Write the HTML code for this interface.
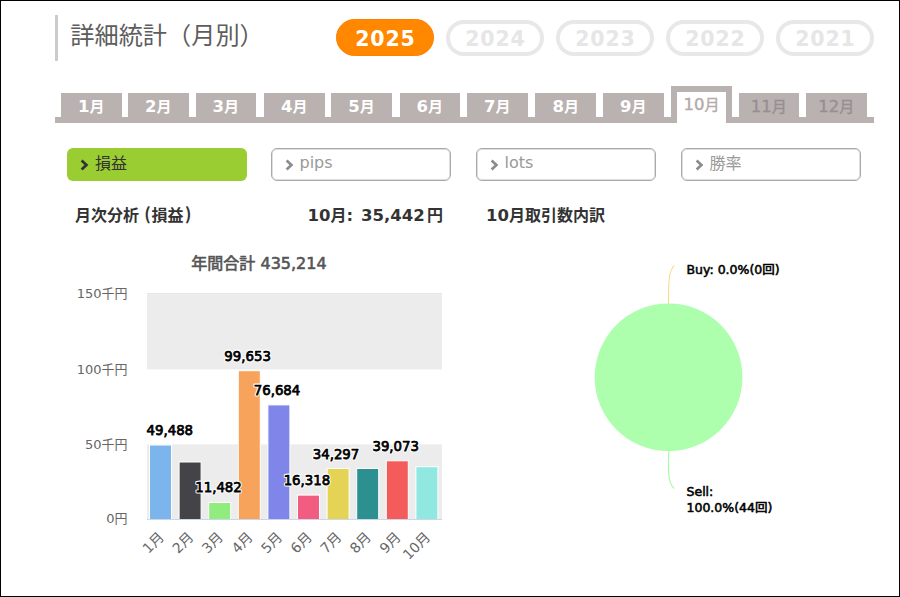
<!DOCTYPE html>
<html lang="ja">
<head>
<meta charset="utf-8">
<title>詳細統計（月別）</title>
<style>
html,body{margin:0;padding:0;}
body{width:900px;height:597px;position:relative;overflow:hidden;background:#fff;
  font-family:"Liberation Sans","Noto Sans CJK JP",sans-serif;}
.frame{position:absolute;left:0;top:0;width:900px;height:597px;box-sizing:border-box;border:1px solid #000;z-index:5;}
.abs{position:absolute;white-space:nowrap;}
.tbar{left:55px;top:15px;width:3px;height:46px;background:#ccc;}
.title{left:70.3px;top:19.5px;font-size:24.2px;line-height:28px;color:#5d5d5d;font-family:"Noto Sans CJK JP",sans-serif;}
.pill{position:absolute;top:19px;width:98px;height:37px;box-sizing:border-box;border-radius:19px;
  text-align:center;font-family:"DejaVu Sans",sans-serif;font-weight:bold;font-size:20.5px;letter-spacing:0.8px;text-indent:0.8px;}
.pill.on{background:#ff8800;border:1px solid #ff7f00;color:#fff;line-height:39px;}
.pill.off{top:20px;height:36px;border:4.5px solid #e8e8e8;color:#e6e6e6;line-height:30px;}
.base{left:55px;top:117px;width:819px;height:6px;background:#bab1b1;}
.tab{position:absolute;top:93px;width:60.6px;height:24px;background:#bab1b1;color:#fff;text-align:center;
  font-family:"DejaVu Sans","Noto Sans CJK JP",sans-serif;font-weight:bold;font-size:15px;line-height:27px;}
.tab .d{font-size:16.5px;}
.tab.dis{color:#949090;font-weight:normal;-webkit-text-stroke:0.35px #949090;}
.tab.act{top:86px;width:61px;height:37px;box-sizing:border-box;border:6px solid #bab1b1;border-bottom:none;background:#fff;color:#b4aaaa;font-weight:normal;line-height:26px;-webkit-text-stroke:0.4px #b4aaaa;}
.btn{position:absolute;top:147.5px;width:180px;height:33.3px;box-sizing:border-box;border-radius:6px;
  font-size:16px;line-height:31px;}
.btn span{position:absolute;left:28px;top:0;}
.btn span.lt{font-family:"DejaVu Sans",sans-serif;font-size:16px;top:-1.5px;}
.btn.on{background:#9acd32;color:#333;}
.btn.off{border:1px solid #a9a9a9;box-shadow:inset 0 0 0 1px #dedede;color:#999;}
.btn.off span{left:27.5px;top:-1px;}
.btn.off span.lt{left:27.5px;top:-1.5px;}
.btn svg{position:absolute;left:13px;top:11px;}
.btn.off svg{left:13px;top:10px;}
.lbl{font-weight:bold;font-size:16px;color:#333;line-height:20px;height:20px;font-family:"Noto Sans CJK JP",sans-serif;}
.lbl .p{font-size:17px;position:relative;top:-1px;margin-left:1.5px;margin-right:1px}
.lbl .l{font-family:"DejaVu Sans",sans-serif;font-size:16.5px;position:relative;top:-0.5px;}
</style>
</head>
<body>
<div class="frame"></div>
<div class="abs tbar"></div>
<div class="abs title">詳細統計（月別）</div>

<div class="pill on" style="left:336px">2025</div>
<div class="pill off" style="left:446px">2024</div>
<div class="pill off" style="left:556px">2023</div>
<div class="pill off" style="left:666px">2022</div>
<div class="pill off" style="left:776px">2021</div>

<div class="abs base"></div>
<div class="tab" style="left:61px"><span class="d">1</span>月</div>
<div class="tab" style="left:128px"><span class="d">2</span>月</div>
<div class="tab" style="left:195.5px"><span class="d">3</span>月</div>
<div class="tab" style="left:264px"><span class="d">4</span>月</div>
<div class="tab" style="left:331.2px"><span class="d">5</span>月</div>
<div class="tab" style="left:399.5px"><span class="d">6</span>月</div>
<div class="tab" style="left:467px"><span class="d">7</span>月</div>
<div class="tab" style="left:535.4px"><span class="d">8</span>月</div>
<div class="tab" style="left:603px"><span class="d">9</span>月</div>
<div class="tab act" style="left:671px"><span class="d">10</span>月</div>
<div class="tab dis" style="left:738.5px"><span class="d">11</span>月</div>
<div class="tab dis" style="left:806px"><span class="d">12</span>月</div>

<div class="btn on" style="left:67px"><svg width="9" height="12" viewBox="0 0 9 12"><path d="M1.6 1.6 L6.4 6 L1.6 10.4" fill="none" stroke="#333" stroke-width="2.7" stroke-linecap="butt" stroke-linejoin="miter"/></svg><span>損益</span></div>
<div class="btn off" style="left:271px"><svg width="9" height="12" viewBox="0 0 9 12"><path d="M1.6 1.6 L6.4 6 L1.6 10.4" fill="none" stroke="#8c8c8c" stroke-width="2.7" stroke-linecap="butt" stroke-linejoin="miter"/></svg><span class="lt">pips</span></div>
<div class="btn off" style="left:476px"><svg width="9" height="12" viewBox="0 0 9 12"><path d="M1.6 1.6 L6.4 6 L1.6 10.4" fill="none" stroke="#8c8c8c" stroke-width="2.7" stroke-linecap="butt" stroke-linejoin="miter"/></svg><span class="lt">lots</span></div>
<div class="btn off" style="left:681px"><svg width="9" height="12" viewBox="0 0 9 12"><path d="M1.6 1.6 L6.4 6 L1.6 10.4" fill="none" stroke="#8c8c8c" stroke-width="2.7" stroke-linecap="butt" stroke-linejoin="miter"/></svg><span>勝率</span></div>

<div class="abs lbl" style="left:75px;top:204px">月次分析 <span class="p">(</span>損益<span class="p">)</span></div>
<div class="abs lbl" style="left:307.5px;top:204px"><span class="l">10</span>月<span class="l">:</span></div>
<div class="abs lbl" style="left:361px;top:204px"><span class="l" style="font-size:16.5px">35,442</span></div>
<div class="abs lbl" style="left:427px;top:204px">円</div>
<div class="abs lbl" style="left:486px;top:204px"><span class="l">10</span>月取引数内訳</div>

<svg class="abs" style="left:0;top:0" width="900" height="597" viewBox="0 0 900 597">
  <g font-family="DejaVu Sans, Noto Sans CJK JP, sans-serif">
  <text x="259" y="269" text-anchor="middle" font-size="16" fill="#555" stroke="#555" stroke-width="0.6">年間合計 435,214</text>
  <rect x="147" y="293" width="295" height="76.4" fill="#ececec"/>
  <rect x="147" y="444.4" width="295" height="74.6" fill="#ececec"/>
  <line x1="147" y1="293.5" x2="442" y2="293.5" stroke="#e4e4e4" stroke-width="1"/>
  <line x1="147" y1="294.5" x2="442" y2="294.5" stroke="#efefef" stroke-width="1"/>
  <g font-size="13" fill="#666" text-anchor="end">
    <text x="127.5" y="298">150千円</text>
    <text x="127.5" y="373.5">100千円</text>
    <text x="127.5" y="448.8">50千円</text>
    <text x="127.5" y="522.8">0円</text>
  </g>
  <g>
    <rect x="149.5" y="445.0" width="22.0" height="74.5" fill="#7cb5ec" stroke="#fff" stroke-width="1"/>
    <rect x="179.1" y="462.0" width="22.0" height="57.5" fill="#434348" stroke="#fff" stroke-width="1"/>
    <rect x="208.7" y="502.5" width="22.0" height="17.0" fill="#90ed7d" stroke="#fff" stroke-width="1"/>
    <rect x="238.3" y="370.7" width="22.0" height="148.8" fill="#f7a35c" stroke="#fff" stroke-width="1"/>
    <rect x="267.9" y="404.9" width="22.0" height="114.6" fill="#8085e9" stroke="#fff" stroke-width="1"/>
    <rect x="297.5" y="495.1" width="22.0" height="24.4" fill="#f15c80" stroke="#fff" stroke-width="1"/>
    <rect x="327.1" y="468.5" width="22.0" height="51.0" fill="#e4d354" stroke="#fff" stroke-width="1"/>
    <rect x="356.7" y="468.5" width="22.0" height="51.0" fill="#2b908f" stroke="#fff" stroke-width="1"/>
    <rect x="386.3" y="460.8" width="22.0" height="58.7" fill="#f45b5b" stroke="#fff" stroke-width="1"/>
    <rect x="415.9" y="466.7" width="22.0" height="52.8" fill="#91e8e1" stroke="#fff" stroke-width="1"/>
  </g>
  <line x1="147" y1="519.5" x2="442" y2="519.5" stroke="#ccd6eb" stroke-width="1"/>
  <g font-size="13.3" text-anchor="middle" fill="#fff" stroke="#fff" stroke-width="2.8" stroke-linejoin="round">
    <text x="169.8" y="435.3">49,488</text>
    <text x="218.5" y="492.3">11,482</text>
    <text x="247.6" y="360.7">99,653</text>
    <text x="277.0" y="395.1">76,684</text>
    <text x="306.9" y="485.2">16,318</text>
    <text x="336.0" y="458.9">34,297</text>
    <text x="395.7" y="451.3">39,073</text>
  </g>
  <g font-size="13.3" text-anchor="middle" fill="#000" stroke="#000" stroke-width="0.75">
    <text x="169.8" y="435.3">49,488</text>
    <text x="218.5" y="492.3">11,482</text>
    <text x="247.6" y="360.7">99,653</text>
    <text x="277.0" y="395.1">76,684</text>
    <text x="306.9" y="485.2">16,318</text>
    <text x="336.0" y="458.9">34,297</text>
    <text x="395.7" y="451.3">39,073</text>
  </g>
  <g font-size="14" fill="#666" text-anchor="end">
    <text transform="translate(164.8,538) rotate(-45)">1月</text>
    <text transform="translate(194.4,538) rotate(-45)">2月</text>
    <text transform="translate(224.0,538) rotate(-45)">3月</text>
    <text transform="translate(253.6,538) rotate(-45)">4月</text>
    <text transform="translate(283.2,538) rotate(-45)">5月</text>
    <text transform="translate(312.8,538) rotate(-45)">6月</text>
    <text transform="translate(342.4,538) rotate(-45)">7月</text>
    <text transform="translate(372.0,538) rotate(-45)">8月</text>
    <text transform="translate(401.6,538) rotate(-45)">9月</text>
    <text transform="translate(431.2,538) rotate(-45)">10月</text>
  </g>
  <circle cx="668.55" cy="377.3" r="73.9" fill="#adffad"/>
  <path d="M668.5 303.5 C668.5 285 668.3 271 674.3 265.3" fill="none" stroke="#fbd98b" stroke-width="1.1"/>
  <path d="M668.9 450.5 C667.9 468 667.6 483 674.3 488.6" fill="none" stroke="#a8fca8" stroke-width="1.2"/>
  <g font-size="12.5" fill="#000" stroke="#000" stroke-width="0.55">
    <text x="686.5" y="273.6">Buy: 0.0%(0回)</text>
    <text x="686.5" y="495.8">Sell:</text>
    <text x="686.5" y="512.2">100.0%(44回)</text>
  </g>
  </g>
</svg>
</body>
</html>
